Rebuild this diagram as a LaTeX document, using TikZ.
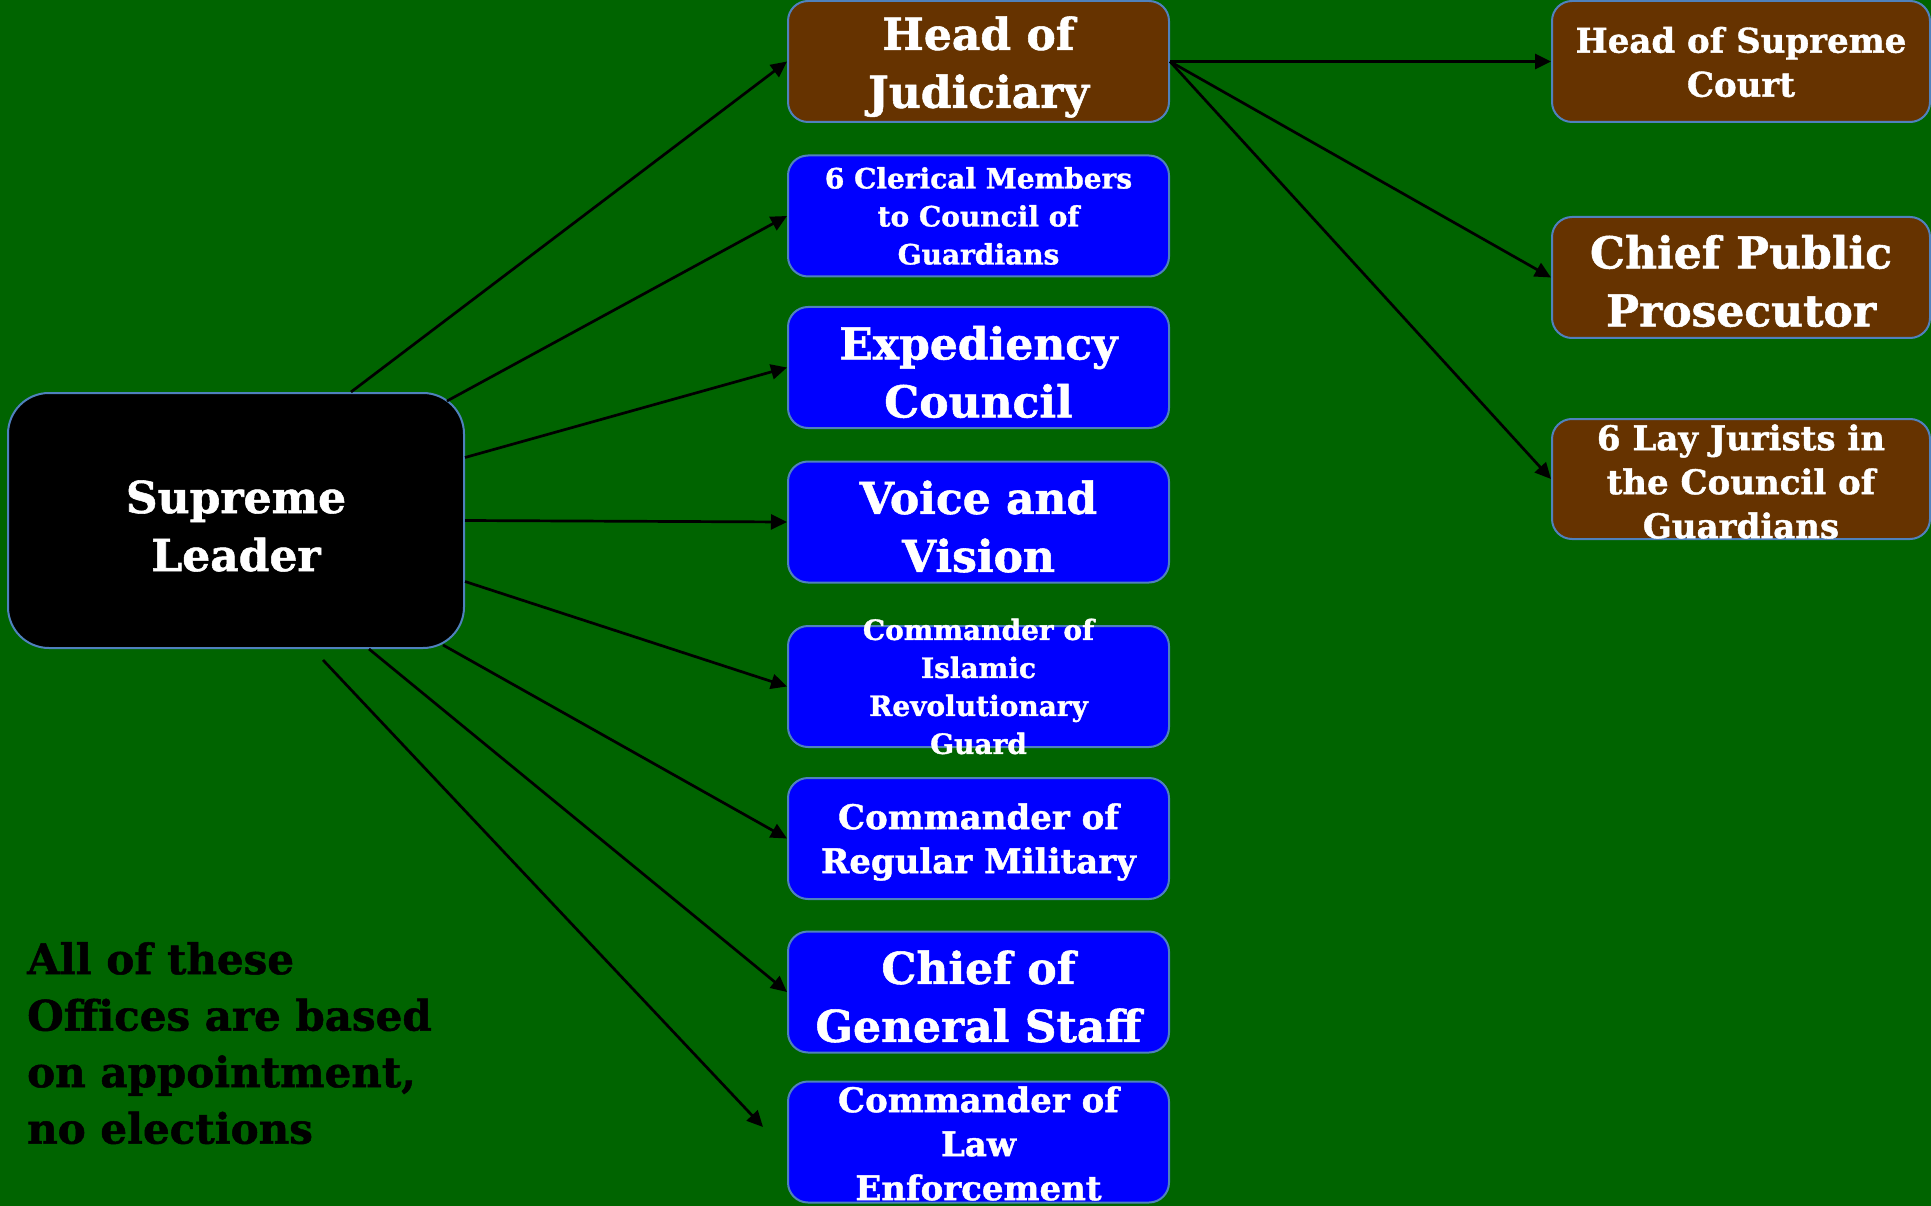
\documentclass[tikz,border=0pt]{standalone}
\usepackage{fontspec}
\setmainfont{DejaVu Serif}[BoldFeatures={FakeBold=1.2}]
\usetikzlibrary{arrows.meta}
\definecolor{bggreen}{RGB}{0,100,0}
\definecolor{boxbrown}{RGB}{102,51,0}
\definecolor{boxblue}{RGB}{0,0,255}
\definecolor{bord}{RGB}{79,129,189}
\newcommand\boxtxt[4][-2.5pt]{\smash{\raisebox{#1}{\makebox[0pt]{\parbox[c][0pt][c]{700pt}{\centering\fontsize{#2}{#3}\selectfont #4}}}}}
\tikzset{
  box/.style={draw=bord, line width=2pt, rounded corners=20pt, minimum width=381pt,
    minimum height=121pt, inner sep=0pt, text=white, font=\bfseries},
  blu/.style={box, fill=boxblue},
  brn/.style={box, fill=boxbrown, minimum width=378pt},
  conn/.style={line width=2.7pt, -{Triangle[length=16pt,width=15pt]}},
}
\begin{document}
\begin{tikzpicture}[x=1pt,y=-1pt]
\fill[bggreen] (0,0) rectangle (1931,1206);
\useasboundingbox (0,0) rectangle (1931,1206);

\node[box, fill=black, minimum width=456pt, minimum height=255pt, rounded corners=41pt] (SL) at (236,520.5)
  {\boxtxt[-8pt]{44}{58}{Supreme\\Leader}};

\node[box, fill=boxbrown] (HJ) at (978.5,61.5) {\boxtxt[-8pt]{44}{58}{Head of\\Judiciary}};
\node[blu] (CL) at (978.5,216) {\boxtxt{28}{38}{6 Clerical Members\\to Council of\\Guardians}};
\node[blu] (EX) at (978.5,367.5) {\boxtxt[-7pt]{44}{58}{Expediency\\Council}};
\node[blu] (VV) at (978.5,522) {\boxtxt[-7pt]{44}{58}{Voice and\\Vision}};
\node[blu] (IRG) at (978.5,686.5) {\boxtxt{28}{38}{Commander of\\Islamic\\Revolutionary\\Guard}};
\node[blu] (RM) at (978.5,838.5) {\boxtxt[-6pt]{34}{44}{Commander of\\Regular Military}};
\node[blu] (CGS) at (978.5,992) {\boxtxt[-7pt]{44}{58}{Chief of\\General Staff}};
\node[blu] (LE) at (978.5,1142) {\boxtxt[-4pt]{34}{44}{Commander of\\Law\\Enforcement}};

\node[brn] (HSC) at (1741,61.5) {\boxtxt[-3pt]{34}{44}{Head of Supreme\\Court}};
\node[brn] (CPP) at (1741,277.5) {\boxtxt[-6pt]{44}{58}{Chief Public\\Prosecutor}};
\node[brn, minimum height=120pt] (LJ) at (1741,479) {\boxtxt[-5pt]{34}{44}{6 Lay Jurists in\\the Council of\\Guardians}};

\node[anchor=north west, inner sep=0pt, align=left, text=black, font=\bfseries\fontsize{42}{56.5}\selectfont] (note) at (27,942)
  {All of these\\Offices are based\\on appointment,\\no elections};

\coordinate (lestart) at (323,660);
\coordinate (leend) at (763,1127);

\draw[conn] ([shift={(115,0)}]SL.north) -- (HJ.west);
\draw[conn] ([shift={(-18,9)}]SL.north east) -- (CL.west);
\draw[conn] ([shift={(0,-63)}]SL.east) -- (EX.west);
\draw[conn] (SL.east) -- (VV.west);
\draw[conn] ([shift={(0,61)}]SL.east) -- (IRG.west);
\draw[conn] ([shift={(-22,-4)}]SL.south east) -- (RM.west);
\draw[conn] ([shift={(133,0)}]SL.south) -- (CGS.west);
\draw[conn] (lestart) -- (leend);

\draw[conn] (HJ.east) -- (HSC.west);
\draw[conn] (HJ.east) -- (CPP.west);
\draw[conn] (HJ.east) -- (LJ.west);
\end{tikzpicture}
\end{document}
